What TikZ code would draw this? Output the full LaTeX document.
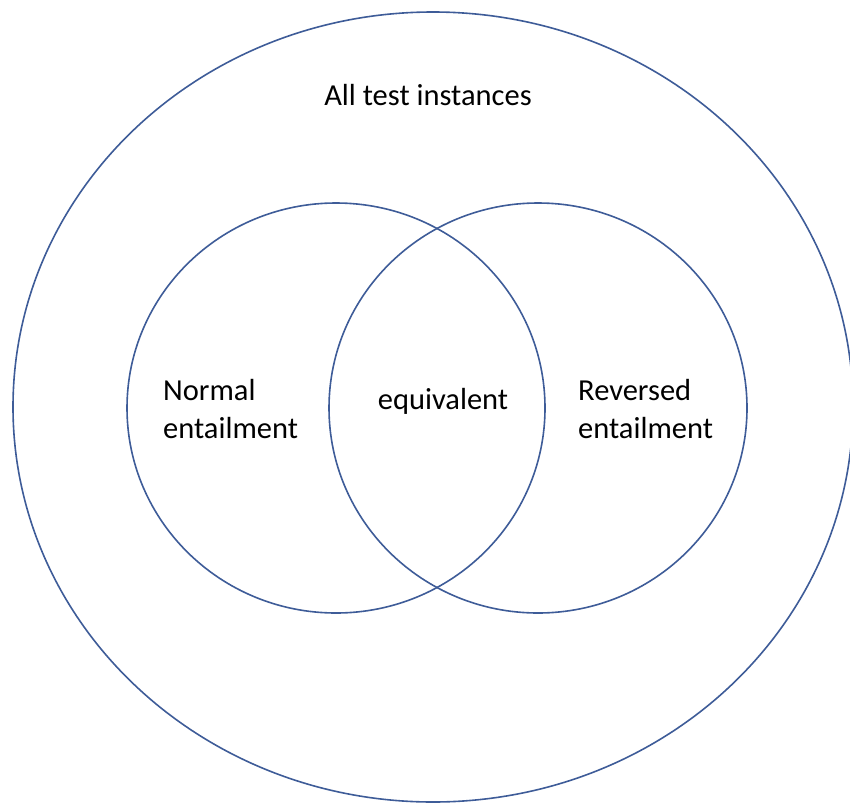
\documentclass[tikz,border=0pt]{standalone}
\usepackage{fontspec}
\setmainfont{Carlito}
\begin{document}
\begin{tikzpicture}[x=1pt,y=-1pt,
  ring/.style={draw={rgb,255:red,62;green,92;blue,152}, line width=1.6pt},
  label/.style={font=\fontsize{30.5}{38}\selectfont, inner sep=0pt, text=black}]
\useasboundingbox (0,0) rectangle (850,803);
% outer set and the two overlapping sets
\draw[ring] (433,407) ellipse [x radius=420, y radius=395];
\draw[ring] (336,408) ellipse [x radius=209, y radius=205];
\draw[ring] (538,408) ellipse [x radius=209, y radius=205];
% labels
\node[label] (all) at (428,95) {All test instances};
\node[label, anchor=west, align=left] (normal) at (163,409) {Normal\\entailment};
\node[label] (equiv) at (443,401) {equivalent};
\node[label, anchor=west, align=left] (rev) at (578,409) {Reversed\\entailment};
\end{tikzpicture}
\end{document}
